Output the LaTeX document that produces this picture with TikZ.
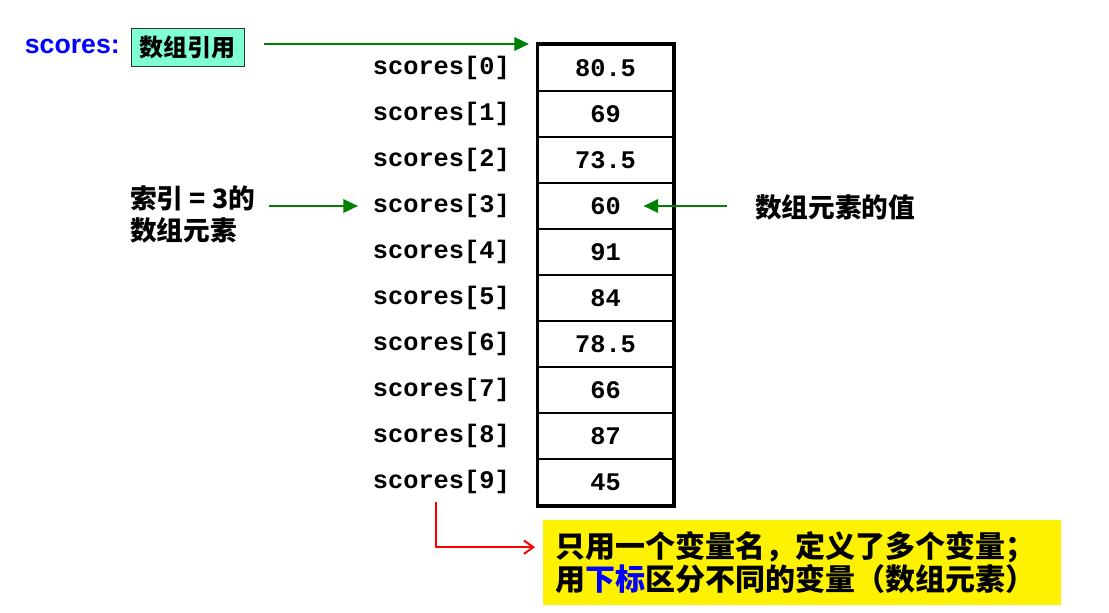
\documentclass[tikz,border=0pt]{standalone}
\usepackage{fontspec}
\setmainfont{Liberation Sans}
\setmonofont{Liberation Mono}
\newfontfamily\cjk{Noto Sans CJK SC}
\usetikzlibrary{arrows.meta}
\definecolor{refgreen}{RGB}{0,128,0}
\definecolor{refcyan}{RGB}{128,255,212}
\definecolor{refblue}{RGB}{0,0,255}
\tikzset{
  cellbox/.style={draw, line width=1.5pt, minimum width=101.25pt, minimum height=34.5pt,
    inner sep=0pt, font=\fontsize{19pt}{22pt}\selectfont\ttfamily\bfseries},
  idxlabel/.style={anchor=east, inner sep=0pt, font=\fontsize{19pt}{22pt}\selectfont\ttfamily\bfseries},
  cjktext/.style={inner sep=0pt, font=\fontsize{20pt}{24pt}\selectfont\cjk\bfseries, align=left},
  garrow/.style={-{Triangle[length=11pt,width=10pt]}, refgreen, line width=1.8pt},
  rarrow/.style={-{Straight Barb[length=7pt,width=10pt]}, red, line width=1.5pt}
}
\begin{document}
\begin{tikzpicture}[x=0.75pt,y=-0.75pt]
  \useasboundingbox (0,0) rectangle (1109,613);

  % Array cells and their index labels
  \foreach \v [count=\i from 0] in {80.5,69,73.5,60,91,84,78.5,66,87,45} {
    \node[cellbox] (cell\i) at (605.5,{68+46*\i}) {\v};
    \node[idxlabel] (lbl\i) at (510,{68+46*\i}) {scores[\i]};
  }
  \draw[line width=2.25pt] (cell0.north west) rectangle (cell9.south east);

  % Array reference
  \node[text=refblue, anchor=east, inner sep=0pt,
    font=\fontsize{20pt}{24pt}\selectfont\bfseries] (refname) at (120,46) {scores:};
  \node[draw=black!80, fill=refcyan, minimum width=85pt, minimum height=28.5pt, inner sep=0pt,
    font=\fontsize{18pt}{22pt}\selectfont\cjk\bfseries] (ref) at (187.5,47) {数组引用};
  \draw[garrow, shorten <=15pt, shorten >=6pt] (ref.east |- cell0.north) -- (cell0.north west);

  % Element with index 3
  \node[cjktext, anchor=west] (idx) at (130,214) {索引 = 3的\\数组元素};
  \draw[garrow, shorten <=10pt, shorten >=11pt] (idx.east |- lbl3) -- (lbl3.west);

  % Element value
  \node[cjktext, anchor=west] (val) at (755,207) {数组元素的值};
  \draw[garrow, shorten <=21pt, shorten >=28.5pt] (val.west |- cell3) -- (cell3.center);

  % Note
  \node[fill=yellow, anchor=west, text width=370pt, minimum height=64pt, inner xsep=9pt,
    font=\fontsize{22.5pt}{25pt}\selectfont\cjk\bfseries, align=left] (note) at (543,562.5)
    {只用一个变量名，定义了多个变量；\\用\textcolor{refblue}{下标}区分不同的变量（数组元素）};
  \draw[rarrow, shorten <=6pt, shorten >=6pt] ([xshift=-3.75pt]lbl9.south) |- ([yshift=11.5pt]note.west);
\end{tikzpicture}
\end{document}
